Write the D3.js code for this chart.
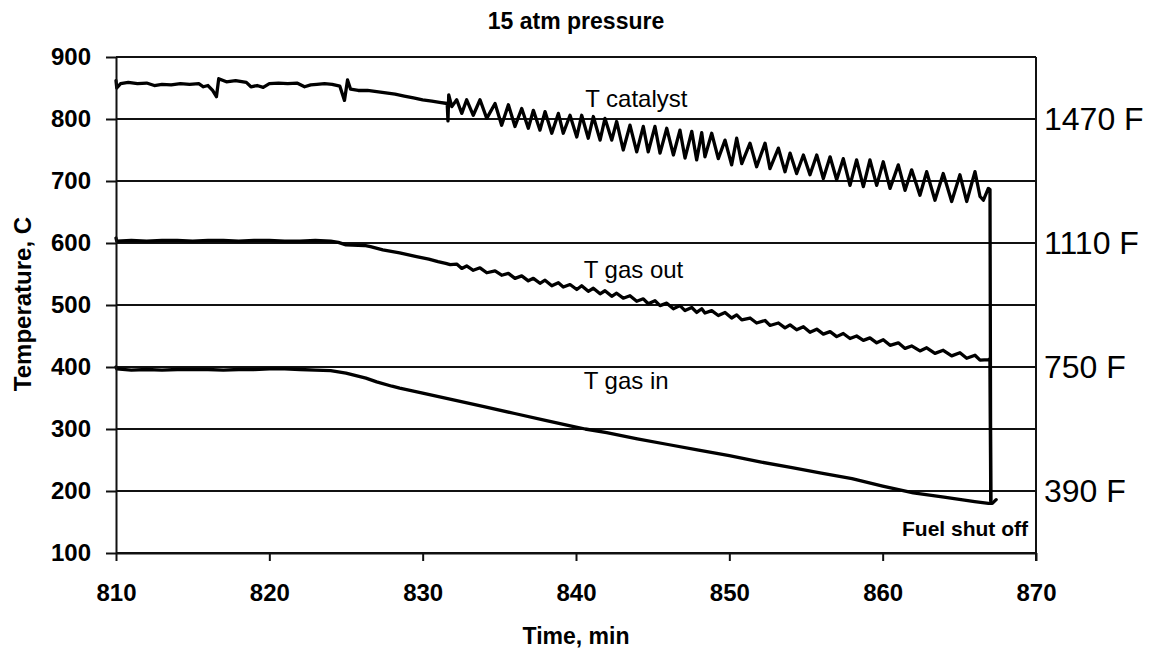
<!DOCTYPE html>
<html>
<head>
<meta charset="utf-8">
<script src="https://cdn.jsdelivr.net/npm/d3@7"></script>
<style>
  html, body { margin: 0; padding: 0; background: #fff; }
  svg { display: block; font-family: "Liberation Sans", Arial, Helvetica, sans-serif; }
</style>
</head>
<body>
<svg id="chart" width="1149" height="649"></svg>
<script>
// Axis ticks
const xTicks = [810, 820, 830, 840, 850, 860, 870];
const yTicks = [100, 200, 300, 400, 500, 600, 700, 800, 900];

// Right-side Fahrenheit reference labels: [label, value in C]
const fahrenheitLabels = [["1470 F", 798.9], ["1110 F", 598.9], ["750 F", 398.9], ["390 F", 198.9]];

// Catalyst temperature, [time min, temperature C]
const catalyst = [
  [810.0,862],[810.05,850],[810.3,857],[810.8,859],[811.4,857],[812.0,858],[812.5,854],[813.0,856],
  [813.6,855],[814.2,857],[814.8,856],[815.4,857],[815.7,852],[816.0,854],[816.3,846],[816.55,836],
  [816.7,865],[817.2,860],[817.8,862],[818.5,859],[818.8,852],[819.2,854],[819.6,851],[820.0,857],
  [820.6,858],[821.2,857],[821.8,858],[822.3,852],[822.7,855],[823.1,856],[823.6,857],[824.1,856],
  [824.6,853],[824.9,830],[825.1,863],[825.3,848],[825.8,846],[826.4,846],[827.0,844],[827.6,842],
  [828.2,840],[828.8,837],[829.4,834],[830.0,831],[830.6,829],[831.1,827],[831.6,825],[831.65,797],
  [831.7,839],[831.9,820],
  [832.22,831],[832.55,809],[832.87,831],[833.3,806],[833.74,831],[834.18,801],[834.72,825],[835.15,790],
  [835.59,823],[836.02,788],[836.46,817],[836.89,785],[837.22,814],[837.65,782],[837.98,812],[838.42,777],
  [838.85,809],[839.17,777],[839.61,806],[840.05,771],[840.37,806],[840.8,769],[841.13,804],[841.57,766],
  [841.89,801],[842.33,766],[842.65,796],[843.08,750],[843.52,790],[843.96,747],[844.39,788],[844.71,747],
  [845.15,788],[845.48,745],[845.92,785],[846.35,742],[846.78,782],[847.11,737],[847.55,780],[847.87,734],
  [848.2,778],[848.41,739],[848.85,777],[849.28,736],[849.72,766],[850.15,726],[850.48,769],[850.81,728],
  [851.35,761],[851.78,723],[852.33,761],[852.65,720],[853.2,753],[853.63,715],[853.96,745],[854.39,712],
  [854.83,742],[855.26,710],[855.7,742],[856.13,704],[856.57,739],[857.0,702],[857.43,736],[857.87,693],
  [858.3,734],[858.74,691],[859.17,734],[859.61,693],[860.04,731],[860.48,688],[861.02,726],[861.46,685],
  [861.89,718],[862.43,677],[862.87,715],[863.41,669],[863.95,712],[864.5,667],[865.04,710],[865.48,667],
  [866.02,715],[866.35,675],[866.57,669],[866.89,688],[867.0,686],[867.05,185]
];

// Outlet gas temperature, [time min, temperature C]
const gasOut = [
  [810.0,608],[810.05,603],[811,604],[812,603],[813,604],[814,604],[815,603],[816,604],[817,604],
  [818,603],[819,604],[820,604],[821,603],[822,603],[823,604],[824,603],[824.5,601],[825.0,597],
  [826.2,596],[826.6,594],[827.4,589],[828.5,584],[829.6,578],[830.4,574],[831.0,570],[831.5,567],
  [831.8,565],
  [832.22,566],[832.55,559],[832.87,563],[833.3,556],[833.74,560],[834.18,552],[834.72,555],[835.15,548],
  [835.59,551],[836.02,543],[836.46,547],[836.89,539],[837.22,543],[837.65,535],[837.98,540],[838.42,531],
  [838.85,536],[839.17,529],[839.61,533],[840.05,525],[840.37,531],[840.8,522],[841.13,527],[841.57,518],
  [841.89,523],[842.33,514],[842.65,519],[843.08,511],[843.52,515],[843.96,506],[844.39,510],[844.71,502],
  [845.15,507],[845.48,499],[845.92,503],[846.35,494],[846.78,499],[847.11,491],[847.55,496],[847.87,488],
  [848.2,494],[848.41,487],[848.85,491],[849.28,483],[849.72,488],[850.15,479],[850.48,484],[850.81,476],
  [851.35,479],[851.78,471],[852.33,475],[852.65,467],[853.2,471],[853.63,463],[853.96,468],[854.39,460],
  [854.83,465],[855.26,456],[855.7,461],[856.13,453],[856.57,457],[857.0,449],[857.43,454],[857.87,446],
  [858.3,450],[858.74,443],[859.17,447],[859.61,439],[860.04,444],[860.48,435],[861.02,439],[861.46,430],
  [861.89,434],[862.43,426],[862.87,431],[863.41,422],[863.95,427],[864.5,418],[865.04,423],[865.48,414],
  [866.02,419],[866.35,411],[866.9,412],[867.0,413],[867.05,184]
];

// Inlet gas temperature, [time min, temperature C]
const gasIn = [
  [810.0,400],[810.05,397],[811,395],[812,396],[813,395],[814,396],[815,396],[816,396],[817,395],
  [818,396],[819,396],[820,397],[821,397],[822,396],[823,395],[824,394],[825,390],[826.3,382],
  [827,376],[828,369],[828.5,366],[830,358],[832,347],[834,336],[836,325],[838,314],[840,303],
  [840.6,300],[842,294],[844,284],[846,275],[848,266],[850,257],[852,247],[854,238],[856,229],
  [858,220],[860,208],[862,197],[864,190],[866,183],[866.9,180],[867.15,180],[867.4,186]
];

// Annotation text placed in data coordinates: [text, time, temperature at baseline]
const seriesLabels = [["T catalyst", 840.6, 819], ["T gas out", 840.5, 543], ["T gas in", 840.5, 365]];
const noteLabel = ["Fuel shut off", 870, 127];

const svg = d3.select("#chart");
const plotLeft = 116, plotRight = 1036, plotTop = 57, plotBottom = 553;

const x = d3.scaleLinear().domain([810, 870]).range([plotLeft, plotRight]);
const y = d3.scaleLinear().domain([100, 900]).range([plotBottom, plotTop]);

// Horizontal gridlines
svg.append("g").selectAll("line").data(yTicks).join("line")
  .attr("x1", plotLeft).attr("x2", plotRight)
  .attr("y1", d => y(d)).attr("y2", d => y(d))
  .attr("stroke", "#111").attr("stroke-width", 2);

// Right frame line
svg.append("line")
  .attr("x1", plotRight).attr("x2", plotRight).attr("y1", plotTop).attr("y2", plotBottom + 8)
  .attr("stroke", "#111").attr("stroke-width", 2);

// Data lines
const line = d3.line().x(d => x(d[0])).y(d => y(d[1])).curve(d3.curveLinear);
[gasIn, gasOut, catalyst].forEach(series => {
  svg.append("path").datum(series)
    .attr("d", line)
    .attr("fill", "none")
    .attr("stroke", "#000")
    .attr("stroke-width", 3.3)
    .attr("stroke-linejoin", "round")
    .attr("stroke-linecap", "round");
});

// Axes
const xAxis = svg.append("g").attr("transform", `translate(0,${plotBottom})`)
  .call(d3.axisBottom(x).tickValues(xTicks).tickFormat(d3.format("d")).tickSize(8).tickSizeOuter(0).tickPadding(23));
const yAxis = svg.append("g").attr("transform", `translate(${plotLeft},0)`)
  .call(d3.axisLeft(y).tickValues(yTicks).tickFormat(d3.format("d")).tickSize(10).tickSizeOuter(0).tickPadding(15));

[xAxis, yAxis].forEach(g => {
  g.select(".domain").attr("stroke", "#111").attr("stroke-width", 2);
  g.selectAll(".tick line").attr("stroke", "#111").attr("stroke-width", 2);
  g.selectAll(".tick text")
    .attr("fill", "#000")
    .style("font-size", "24px")
    .style("font-weight", "bold")
    .style("font-family", '"Liberation Sans", Arial, sans-serif');
});

// Title
svg.append("text")
  .attr("x", 576).attr("y", 29)
  .attr("text-anchor", "middle")
  .style("font-size", "23px").style("font-weight", "bold")
  .text("15 atm pressure");

// Axis titles
svg.append("text")
  .attr("x", 576).attr("y", 644)
  .attr("text-anchor", "middle")
  .style("font-size", "23px").style("font-weight", "bold")
  .text("Time, min");

svg.append("text")
  .attr("transform", "translate(31,304) rotate(-90)")
  .attr("text-anchor", "middle")
  .style("font-size", "24px").style("font-weight", "bold")
  .text("Temperature, C");

// Series labels
svg.append("g").selectAll("text").data(seriesLabels).join("text")
  .attr("x", d => x(d[1])).attr("y", d => y(d[2]))
  .style("font-size", "24px")
  .text(d => d[0]);

// Fuel shut-off note
svg.append("text")
  .attr("x", x(noteLabel[1]) - 8).attr("y", y(noteLabel[2]))
  .attr("text-anchor", "end")
  .style("font-size", "21px").style("font-weight", "bold")
  .text(noteLabel[0]);

// Fahrenheit equivalents on the right
svg.append("g").selectAll("text").data(fahrenheitLabels).join("text")
  .attr("x", plotRight + 8).attr("y", d => y(d[1]) + 10)
  .style("font-size", "32px")
  .text(d => d[0]);
</script>
</body>
</html>
